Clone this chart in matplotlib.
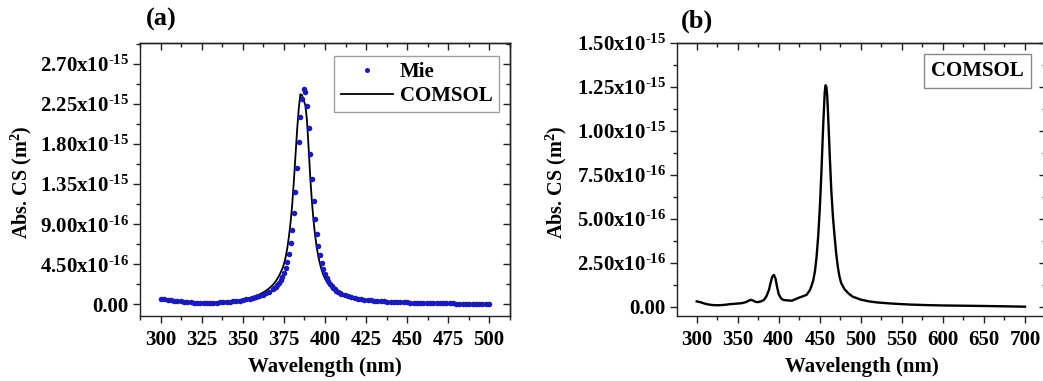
import matplotlib
matplotlib.use('Agg')
import matplotlib.pyplot as plt
from matplotlib.ticker import MultipleLocator

plt.rcParams.update({
    'font.family': 'Liberation Serif',
    'font.weight': 'bold',
    'mathtext.fontset': 'custom',
    'mathtext.rm': 'Liberation Serif:bold',
    'mathtext.it': 'Liberation Serif:bold',
    'mathtext.bf': 'Liberation Serif:bold',
    'mathtext.default': 'rm',
    'axes.linewidth': 1.0,
    'axes.edgecolor': '#222222',
})

# panel (a): Mie theory (dots), values in 1e-16 m^2
mie_wl = list(range(300, 369, 2)) + list(range(369, 411)) + list(range(412, 501, 2))
mie_cs = [0.60, 0.55, 0.50, 0.45, 0.40, 0.36, 0.32, 0.28, 0.25, 0.22,
          0.20, 0.19, 0.18, 0.18, 0.17, 0.17, 0.18, 0.19, 0.21, 0.24,
          0.27, 0.30, 0.34, 0.38, 0.43, 0.48, 0.55, 0.62, 0.70, 0.80,
          0.92, 1.05, 1.22, 1.42, 1.68,
          1.83, 2.00, 2.20, 2.45, 2.75, 3.10, 3.55, 4.10, 4.80, 5.70,
          6.90, 8.40, 10.3, 12.6, 15.3, 18.2, 21.0, 23.1, 24.2, 23.9,
          22.3, 19.8, 16.9, 14.1, 11.6, 9.60, 7.95, 6.60, 5.55, 4.70,
          4.00, 3.45, 3.00, 2.62, 2.32, 2.07, 1.86, 1.68, 1.53, 1.40,
          1.29, 1.19,
          1.03, 0.90, 0.80, 0.71, 0.64, 0.58, 0.53, 0.48, 0.44, 0.41,
          0.38, 0.35, 0.33, 0.31, 0.29, 0.27, 0.25, 0.24, 0.22, 0.21,
          0.20, 0.19, 0.18, 0.17, 0.16, 0.15, 0.14, 0.13, 0.13, 0.12,
          0.11, 0.11, 0.10, 0.10, 0.09, 0.09, 0.08, 0.08, 0.07, 0.07,
          0.06, 0.06, 0.05, 0.05, 0.05]

# panel (a): COMSOL (line)
com_a_wl = [300, 305, 310, 315, 320, 325, 330, 335, 340, 345,
            350, 355, 360, 363, 366, 368, 370, 372, 374, 375,
            376, 377, 378, 379, 380, 381, 382, 383, 384, 385,
            386, 387, 388, 389, 390, 391, 392, 393, 394, 395,
            396, 397, 398, 399, 400, 402, 404, 406, 408, 410,
            415, 420, 425, 430, 440, 450, 460, 470, 480, 490, 500]
com_a_cs = [0.60, 0.48, 0.36, 0.26, 0.21, 0.20, 0.20, 0.23, 0.30, 0.40,
            0.55, 0.78, 1.10, 1.40, 1.80, 2.15, 2.60, 3.20, 4.00, 4.55,
            5.30, 6.30, 7.60, 9.20, 11.2, 13.8, 16.7, 19.6, 22.0, 23.6,
            23.5, 22.9, 22.4, 20.7, 17.6, 14.3, 11.6, 9.40, 7.70, 6.35,
            5.30, 4.50, 3.85, 3.30, 2.90, 2.30, 1.88, 1.58, 1.35, 1.17,
            0.82, 0.61, 0.47, 0.38, 0.26, 0.19, 0.14, 0.11, 0.08, 0.06, 0.05]

# panel (b): COMSOL (line)
com_b_wl = [300, 305, 310, 315, 320, 325, 330, 335, 340, 345,
            350, 355, 360, 363, 366, 369, 372, 375, 378, 381,
            383, 385, 388, 390, 392, 394, 396, 398, 400, 403,
            406, 410, 416, 420, 425, 430, 434, 438, 440, 442,
            444, 446, 448, 450, 452, 454, 456, 457, 458, 459,
            460, 461, 462, 464, 466, 468, 470, 472, 474, 476,
            480, 485, 490, 500, 510, 520, 540, 560, 580, 600, 650, 700]
com_b_cs = [0.30, 0.25, 0.17, 0.12, 0.09, 0.08, 0.09, 0.11, 0.14, 0.16,
            0.18, 0.20, 0.26, 0.33, 0.39, 0.34, 0.27, 0.26, 0.30, 0.36,
            0.45, 0.60, 0.95, 1.35, 1.70, 1.81, 1.60, 1.10, 0.70, 0.46,
            0.38, 0.36, 0.34, 0.42, 0.52, 0.60, 0.68, 0.95, 1.20, 1.50,
            2.00, 2.80, 4.00, 5.60, 7.70, 10.2, 12.2, 12.6, 12.5, 12.0,
            11.0, 9.9, 8.7, 6.6, 5.1, 4.0, 3.0, 2.25, 1.70, 1.35,
            1.00, 0.75, 0.57, 0.40, 0.30, 0.24, 0.17, 0.12, 0.09, 0.07, 0.04, 0.00]

yticks_a = [0, 4.5, 9, 13.5, 18, 22.5, 27]
ylabels_a = ['0.00', '4.50x10$^{\\text{-16}}$', '9.00x10$^{\\text{-16}}$', '1.35x10$^{\\text{-15}}$',
             '1.80x10$^{\\text{-15}}$', '2.25x10$^{\\text{-15}}$', '2.70x10$^{\\text{-15}}$']
yticks_b = [0, 2.5, 5, 7.5, 10, 12.5, 15]
ylabels_b = ['0.00', '2.50x10$^{\\text{-16}}$', '5.00x10$^{\\text{-16}}$', '7.50x10$^{\\text{-16}}$',
             '1.00x10$^{\\text{-15}}$', '1.25x10$^{\\text{-15}}$', '1.50x10$^{\\text{-15}}$']
xticks_a = list(range(300, 501, 25))
xticks_b = list(range(300, 701, 50))

W, H = 1043, 381
fig = plt.figure(figsize=(W / 100, H / 100), dpi=100)
ax_a = fig.add_axes([140 / W, 65 / H, 370 / W, 273 / H])
ax_b = fig.add_axes([676.7 / W, 65 / H, 368.8 / W, 273 / H])


def style(ax, xticks, xminor, yticks, ylabels, yminor):
    ax.set_xticks(xticks)
    ax.xaxis.set_minor_locator(MultipleLocator(xminor))
    ax.set_yticks(yticks, ylabels)
    ax.yaxis.set_minor_locator(MultipleLocator(yminor))
    ax.tick_params(which='both', direction='out', labelsize=15, width=1, color='#222222')
    ax.tick_params(which='major', length=5)
    ax.tick_params(which='minor', length=3)
    ax.tick_params(axis='x', pad=5)
    ax.tick_params(axis='y', pad=3)
    # mirrored ticks pointing inward on top and right
    top = ax.secondary_xaxis('top')
    top.set_xticks(xticks)
    top.xaxis.set_minor_locator(MultipleLocator(xminor))
    top.tick_params(which='both', direction='in', labeltop=False, width=1, color='#222222')
    top.tick_params(which='major', length=5)
    top.tick_params(which='minor', length=3)
    right = ax.secondary_yaxis('right')
    right.set_yticks(yticks)
    right.yaxis.set_minor_locator(MultipleLocator(yminor))
    right.tick_params(which='both', direction='in', labelright=False, width=1, color='#222222')
    right.tick_params(which='major', length=5)
    right.tick_params(which='minor', length=3)
    ax.set_xlabel('Wavelength (nm)', fontsize=15, fontweight='bold')
    ax.set_ylabel('Abs. CS (m$^2$)', fontsize=14.5, fontweight='bold')


# (a)
ax_a.plot(mie_wl, mie_cs, ls='none', marker='o', ms=4.0, mew=0, color='#1a1ab4',
          label='Mie', zorder=3)
ax_a.plot(com_a_wl, com_a_cs, color='black', lw=1.3, label='COMSOL', zorder=2)
ax_a.set_xlim(287.2, 512.8)
ax_a.set_ylim(-1.31, 29.36)
style(ax_a, xticks_a, 12.5, yticks_a, ylabels_a, 2.25)
ax_a.xaxis.set_label_coords(0.5, -0.15)
ax_a.yaxis.set_label_coords(-0.286, 0.49)
leg = ax_a.legend(loc='upper right', bbox_to_anchor=(499 / W, (H - 55.7) / H),
                  bbox_transform=fig.transFigure, borderaxespad=0, fontsize=15,
                  frameon=True, fancybox=False, edgecolor='#888888', numpoints=1,
                  handlelength=2.5, handletextpad=0.35, markerscale=0.9,
                  labelspacing=0.2, borderpad=0.3)
leg.get_frame().set_linewidth(1.0)

# (b)
ax_b.plot(com_b_wl, com_b_cs, color='black', lw=1.7)
ax_b.set_xlim(275.6, 725)
ax_b.set_ylim(-0.53, 15.0)
style(ax_b, xticks_b, 25, yticks_b, ylabels_b, 1.25)
ax_b.xaxis.set_label_coords(0.502, -0.15)
ax_b.yaxis.set_label_coords(-0.292, 0.49)
ax_b.text(0.8156, 0.897, 'COMSOL', transform=ax_b.transAxes, ha='center', va='center',
          fontsize=15, fontweight='bold',
          bbox=dict(boxstyle='square,pad=0.35', fc='white', ec='#888888', lw=1.0))

fig.text(146 / W, 1 - 19 / H, '(a)', fontsize=19, fontweight='bold', ha='left', va='center')
fig.text(681 / W, 1 - 21 / H, '(b)', fontsize=19, fontweight='bold', ha='left', va='center')

fig.savefig('out.png', dpi=100)
